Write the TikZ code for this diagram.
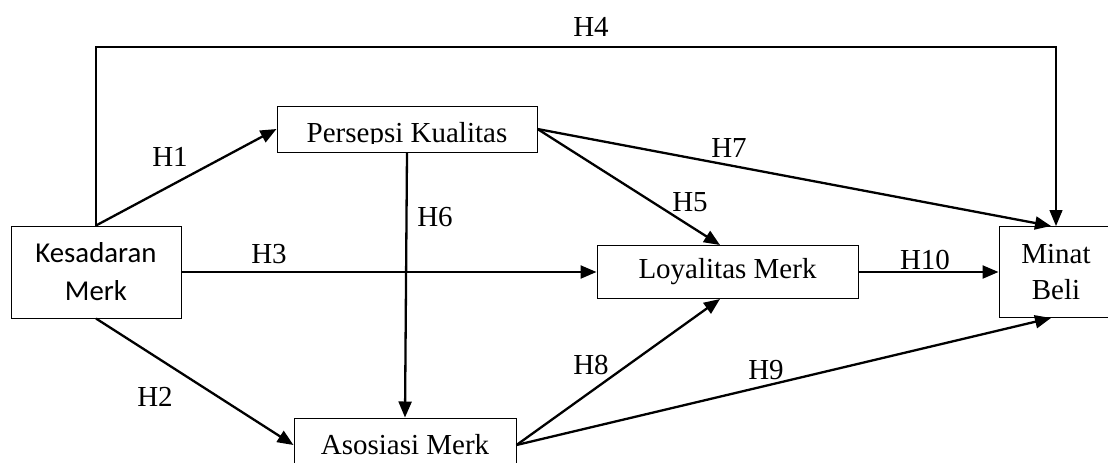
\documentclass[tikz,border=0pt]{standalone}
\usepackage{fontspec}
\setmainfont{Liberation Serif}
\newfontfamily\carlito{Carlito}
\usetikzlibrary{arrows.meta}

\begin{document}
\begin{tikzpicture}[x=0.5pt,y=-0.5pt,
    box/.style={draw,line width=0.5pt,inner sep=0pt,align=center,
      font=\fontsize{14.5}{18}\selectfont},
    link/.style={-{Triangle[length=8pt,width=6.5pt]},line width=1.15pt},
    hyp/.style={inner sep=0pt,font=\fontsize{14.5}{18}\selectfont}]
  % Page frame, the boxes on the edge run over it
  \clip (0,0) rectangle (1108,462);

  % Define the five boxes
  \node[box,minimum width=85pt,minimum height=46pt,
    font=\carlito\fontsize{14.4}{19}\selectfont] (ks) at (96,272) {Kesadaran\\Merk};
  \node[box,minimum width=130pt,minimum height=23pt] (pk) at (407,129) {};
  \node[box,minimum width=130.5pt,minimum height=26.5pt] (lm) at (727.5,272) {Loyalitas Merk};
  \node[box,minimum width=57pt,minimum height=45.5pt] (mb) at (1056,272) {Minat\\Beli};
  \node[box,minimum width=111pt,minimum height=27pt] (am) at (405,445) {Asosiasi Merk};

  % Text of Persepsi Kualitas sits low and loses its descender
  \begin{scope}
    \clip (277,100) rectangle (537,143.5);
    \node[hyp,anchor=base] (pktext) at (407,142) {Persepsi Kualitas};
  \end{scope}

  % H4 goes round over the top
  \coordinate (topl) at (96,47);
  \coordinate (topr) at (1056,47);
  \draw[link,line width=0.65pt] (ks.north) -- (topl) -- (topr) -- (mb.north);

  % Direct paths
  \draw[link] (ks.north) -- (pk.west);
  \draw[link] (ks.south) -- (am.west);
  \draw[link] (ks.east) -- (lm.west);
  \draw[link] (pk.south) -- (am.north);
  \draw[link] (pk.east) -- ([xshift=-3.75pt]lm.north);
  \draw[link] (pk.east) -- ([xshift=-2.5pt]mb.north);
  \draw[link] (lm.east) -- (mb.west);
  \draw[link] (am.east) -- ([xshift=-3.75pt]lm.south);
  \draw[link] (am.east) -- ([xshift=-2.5pt]mb.south);

  % Hypothesis labels
  \node[hyp] (h1) at (170,157) {H1};
  \node[hyp] (h2) at (155,397) {H2};
  \node[hyp] (h3) at (269,254) {H3};
  \node[hyp] (h4) at (591,27) {H4};
  \node[hyp] (h5) at (690,202) {H5};
  \node[hyp] (h6) at (435,217) {H6};
  \node[hyp] (h7) at (729,148) {H7};
  \node[hyp] (h8) at (591,365) {H8};
  \node[hyp] (h9) at (766,370) {H9};
  \node[hyp] (h10) at (925,260) {H10};
\end{tikzpicture}
\end{document}
